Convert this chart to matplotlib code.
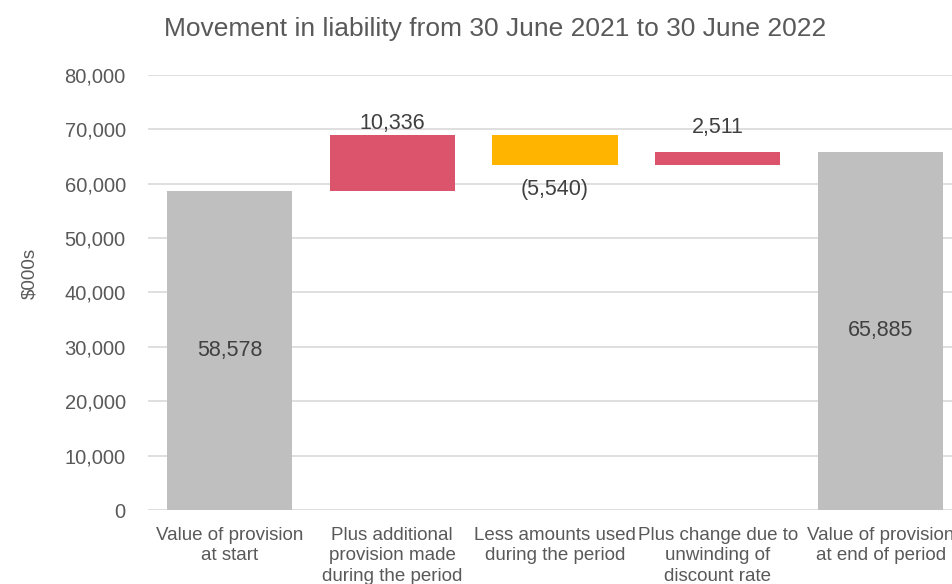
import matplotlib
matplotlib.use("Agg")
from matplotlib import pyplot as plt
from matplotlib.ticker import FuncFormatter

plt.rcParams['font.family'] = ['Liberation Sans', 'DejaVu Sans']

categories = [
    "Value of provision\nat start",
    "Plus additional\nprovision made\nduring the period",
    "Less amounts used\nduring the period",
    "Plus change due to\nunwinding of\ndiscount rate",
    "Value of provision\nat end of period",
]
# first and last entries are totals, the rest are movements
values = [58578, 10336, -5540, 2511, 65885]
is_total = [True, False, False, False, True]

GREY = '#BFBFBF'
RED = '#DC546C'
AMBER = '#FFB500'
TEXT = '#595959'
LABEL = '#404040'

# distance from the bar end to the centre of its value label
label_gap = [0, 2250, 4350, 4500, 0]


def fmt(v):
    return f"({abs(v):,})" if v < 0 else f"{v:,}"


fig = plt.figure(figsize=(9.53, 5.84), dpi=100)
ax = fig.add_axes([148 / 953, 74 / 584, (962 - 148) / 953, (510 - 75) / 584])

running = 0
for i, v in enumerate(values):
    if is_total[i]:
        bottom, height, color = 0, v, GREY
        running = v
    else:
        bottom = running if v >= 0 else running + v
        height = abs(v)
        color = RED if v >= 0 else AMBER
        running += v
    ax.bar(i, height, bottom=bottom, width=0.77, color=color, zorder=2)

    if is_total[i]:
        y = v / 2
    elif v >= 0:
        y = bottom + height + label_gap[i]
    else:
        y = bottom - label_gap[i]
    ax.text(i, y, fmt(v), ha='center', va='center', fontsize=15.5, color=LABEL)

ax.set_xlim(-0.5, len(values) - 0.5)
ax.set_ylim(0, 80000)
ax.set_yticks(range(0, 80001, 10000))
ax.yaxis.set_major_formatter(FuncFormatter(lambda x, p: f"{int(x):,}"))
ax.set_xticks(range(len(categories)))
ax.set_xticklabels(categories, fontsize=13.5, color=TEXT, linespacing=1.28)
ax.tick_params(axis='y', labelsize=14.5, colors=TEXT, length=0, pad=16)
ax.tick_params(axis='x', length=0, pad=12)
ax.grid(axis='y', color='#D9D9D9', linewidth=1.2, zorder=0)
ax.set_axisbelow(True)
for s in ax.spines.values():
    s.set_visible(False)

fig.text(495 / 953, 1 - 29 / 584, "Movement in liability from 30 June 2021 to 30 June 2022",
         ha='center', va='center', fontsize=19, color=TEXT)
fig.text(30 / 953, 1 - 273 / 584, "$000s", rotation=90, ha='center', va='center',
         fontsize=13.5, color=TEXT)

fig.savefig("out.png", dpi=100)
